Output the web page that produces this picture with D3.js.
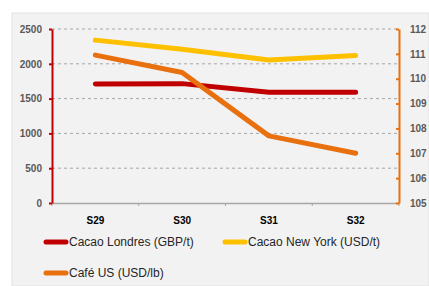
<!DOCTYPE html>
<html>
<head>
<meta charset="utf-8">
<script src="https://cdn.jsdelivr.net/npm/d3@7"></script>
<style>
  body { margin: 0; background: #fff; }
  svg { display: block; font-family: "Liberation Sans", "DejaVu Sans", sans-serif; }
</style>
</head>
<body>
<svg id="chart" width="429" height="286"></svg>
<script>
// weeks on the x axis
var weeks = ["S29", "S30", "S31", "S32"];

// values
var cacaoLondres = [1710, 1715, 1590, 1590];   // left axis
var cacaoNewYork = [2340, 2210, 2055, 2120];   // left axis
var cafeUS = [110.95, 110.25, 107.7, 107.0];   // right axis

var leftTicks = [0, 500, 1000, 1500, 2000, 2500];
var rightTicks = [105, 106, 107, 108, 109, 110, 111, 112];

var series = [
    {name: "Cacao Londres (GBP/t)", values: cacaoLondres, color: "#c00000", axis: "left"},
    {name: "Cacao New York (USD/t)", values: cacaoNewYork, color: "#ffc000", axis: "left"},
    {name: "Café US (USD/lb)", values: cafeUS, color: "#e8700f", axis: "right"}
];

var svg = d3.select("#chart");

// grey panel
svg.append("rect")
    .attr("x", 12).attr("y", 13)
    .attr("width", 417).attr("height", 273)
    .attr("fill", "#f2f2f2")
    .attr("stroke", "#e2e2e2");

var plotLeft = 52, plotRight = 399, plotTop = 29, plotBottom = 203;

var x = d3.scaleBand().domain(weeks).range([plotLeft, plotRight]);
var yL = d3.scaleLinear().domain([0, 2500]).range([plotBottom, plotTop]);
var yR = d3.scaleLinear().domain([105, 112]).range([plotBottom, plotTop]);

// dashed gridlines
svg.append("g")
    .selectAll("line")
    .data(leftTicks.slice(1))
    .enter().append("line")
    .attr("x1", plotLeft).attr("x2", plotRight)
    .attr("y1", function(d) { return yL(d); })
    .attr("y2", function(d) { return yL(d); })
    .attr("stroke", "#a6a6a6")
    .attr("stroke-dasharray", "3,3");

// bottom axis
var xAxis = svg.append("g")
    .attr("transform", "translate(0," + plotBottom + ")")
    .call(d3.axisBottom(x).tickSize(0).tickPadding(14));
xAxis.select(".domain").attr("stroke", "#a6a6a6").attr("stroke-width", 1.5);
xAxis.selectAll("text")
    .attr("font-size", 10).attr("font-weight", "bold").attr("fill", "#000");
xAxis.selectAll(".bnd")
    .data(d3.range(weeks.length + 1))
    .enter().append("line")
    .attr("x1", function(i) { return plotLeft + i * x.step(); })
    .attr("x2", function(i) { return plotLeft + i * x.step(); })
    .attr("y1", 0).attr("y2", 3)
    .attr("stroke", "#a6a6a6");

// left axis
var lAxis = svg.append("g")
    .attr("transform", "translate(" + plotLeft + ",0)")
    .call(d3.axisLeft(yL).tickValues(leftTicks).tickFormat(d3.format("d"))
        .tickSize(3).tickSizeOuter(0).tickPadding(7));
lAxis.select(".domain").attr("stroke", "#c00000").attr("stroke-width", 2);
lAxis.selectAll(".tick line").attr("stroke", "#c00000").attr("stroke-width", 2);
lAxis.selectAll("text")
    .attr("font-size", 10).attr("font-weight", "bold").attr("fill", "#595959");

// right axis
var rAxis = svg.append("g")
    .attr("transform", "translate(" + plotRight + ",0)")
    .call(d3.axisRight(yR).tickValues(rightTicks).tickFormat(d3.format("d"))
        .tickSize(-3).tickSizeOuter(0).tickPadding(11));
rAxis.select(".domain").attr("stroke", "#e8700f").attr("stroke-width", 2);
rAxis.selectAll(".tick line").attr("stroke", "#e8700f").attr("stroke-width", 2);
rAxis.selectAll("text")
    .attr("font-size", 10).attr("font-weight", "bold").attr("fill", "#595959");

// lines
series.forEach(function(s) {
    var yScale = s.axis == "left" ? yL : yR;
    var line = d3.line()
        .x(function(d, i) { return x(weeks[i]) + x.bandwidth() / 2; })
        .y(function(d) { return yScale(d); });
    svg.append("path")
        .datum(s.values)
        .attr("d", line)
        .attr("fill", "none")
        .attr("stroke", s.color)
        .attr("stroke-width", 5)
        .attr("stroke-linecap", "round")
        .attr("stroke-linejoin", "round");
});

// legend
var legendPos = [[44, 242], [223, 242], [44, 273]];
var legend = svg.selectAll(".legend")
    .data(series)
    .enter().append("g")
    .attr("class", "legend")
    .attr("transform", function(d, i) { return "translate(" + legendPos[i][0] + "," + legendPos[i][1] + ")"; });
legend.append("line")
    .attr("x1", 2).attr("x2", 22)
    .attr("y1", 0).attr("y2", 0)
    .attr("stroke", function(d) { return d.color; })
    .attr("stroke-width", 5)
    .attr("stroke-linecap", "round");
legend.append("text")
    .attr("x", 25).attr("y", 4)
    .attr("font-size", 12)
    .attr("fill", "#262626")
    .text(function(d) { return d.name; });
</script>
</body>
</html>
